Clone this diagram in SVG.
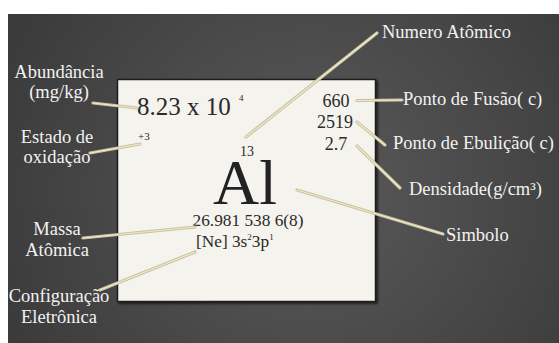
<svg xmlns="http://www.w3.org/2000/svg" width="559" height="343" viewBox="0 0 559 343">
  <defs>
    <radialGradient id="bg" cx="310" cy="190" r="330" gradientUnits="userSpaceOnUse">
      <stop offset="0" stop-color="#5a5a5a"/>
      <stop offset="1" stop-color="#3b3b3b"/>
    </radialGradient>
    <filter id="shadow" x="-10%" y="-10%" width="120%" height="120%">
      <feDropShadow dx="1.5" dy="1.5" stdDeviation="1.2" flood-color="#000" flood-opacity="0.7"/>
    </filter>
    <style>
      text { font-family: "Liberation Serif", "Times New Roman", serif; }
      .label { font-size: 18.5px; fill: #f2f2f2; }
      .val { font-size: 18px; fill: #2a2a2a; }
      .ink { fill: #2a2a2a; }
      .mid { text-anchor: middle; }
      .lead { stroke: #cbc29c; stroke-width: 3.2; stroke-linecap: round; fill: none; }
      .lead-core { stroke: #efe9d2; stroke-width: 1.2; stroke-linecap: round; fill: none; }
    </style>
  </defs>

  <!-- page and dark backdrop -->
  <rect x="0" y="0" width="559" height="343" fill="#ffffff"/>
  <rect x="8" y="14" width="551" height="329" fill="url(#bg)"/>

  <!-- element card -->
  <g id="card">
    <rect x="117.5" y="79.5" width="258" height="222" fill="#f5f3ee" stroke="#1e1e1e" stroke-width="1.5" filter="url(#shadow)"/>
  </g>

  <!-- card contents -->
  <g id="abundance-value">
    <text x="137" y="115" class="ink" font-size="25">8.23 x 10</text>
    <text x="239" y="101" class="ink" font-size="9">4</text>
  </g>
  <g id="oxidation-value">
    <text x="138" y="140" class="ink" font-size="11">+3</text>
  </g>
  <g id="atomic-number">
    <text x="240" y="156" class="ink" font-size="14">13</text>
  </g>
  <g id="symbol">
    <text x="245" y="204" class="mid" font-size="64" fill="#222">Al</text>
  </g>
  <g id="atomic-mass">
    <text x="248" y="226" class="mid ink" font-size="17.3">26.981 538 6(8)</text>
  </g>
  <g id="configuration">
    <text x="196" y="247" class="ink" font-size="17.3">[Ne] 3s<tspan font-size="9" dy="-7">2</tspan><tspan dy="7">3p</tspan><tspan font-size="9" dy="-7">1</tspan></text>
  </g>
  <g id="melting">
    <text x="336" y="107" class="val mid">660</text>
  </g>
  <g id="boiling">
    <text x="335" y="128" class="val mid">2519</text>
  </g>
  <g id="density">
    <text x="336" y="150" class="val mid">2.7</text>
  </g>

  <!-- leader lines -->
  <g id="connectors">
    <g class="lead">
      <line x1="93" y1="103" x2="137" y2="108"/>
      <line x1="90" y1="153" x2="140" y2="144"/>
      <line x1="246" y1="137" x2="377" y2="33"/>
      <line x1="357" y1="100.5" x2="402" y2="100"/>
      <line x1="357" y1="122" x2="385" y2="145"/>
      <line x1="357" y1="146" x2="400" y2="188"/>
      <line x1="297" y1="190" x2="443" y2="234"/>
      <line x1="83" y1="238" x2="195" y2="227"/>
      <line x1="100" y1="290" x2="195" y2="252"/>
    </g>
    <g class="lead-core">
      <line x1="93" y1="103" x2="137" y2="108"/>
      <line x1="90" y1="153" x2="140" y2="144"/>
      <line x1="246" y1="137" x2="377" y2="33"/>
      <line x1="357" y1="100.5" x2="402" y2="100"/>
      <line x1="357" y1="122" x2="385" y2="145"/>
      <line x1="357" y1="146" x2="400" y2="188"/>
      <line x1="297" y1="190" x2="443" y2="234"/>
      <line x1="83" y1="238" x2="195" y2="227"/>
      <line x1="100" y1="290" x2="195" y2="252"/>
    </g>
  </g>

  <!-- outer labels -->
  <g id="label-abundance">
    <text x="59" y="78" class="label mid">Abundância</text>
    <text x="59" y="98" class="label mid">(mg/kg)</text>
  </g>
  <g id="label-oxidation">
    <text x="57" y="143" class="label mid">Estado de</text>
    <text x="57" y="163" class="label mid">oxidação</text>
  </g>
  <g id="label-mass">
    <text x="57" y="235" class="label mid">Massa</text>
    <text x="57" y="256" class="label mid">Atômica</text>
  </g>
  <g id="label-configuration">
    <text x="59" y="302" class="label mid">Configuração</text>
    <text x="59" y="323" class="label mid">Eletrônica</text>
  </g>
  <g id="label-atomic-number">
    <text x="382" y="38" class="label">Numero Atômico</text>
  </g>
  <g id="label-melting">
    <text x="403" y="105" class="label">Ponto de Fusão(  c)</text>
  </g>
  <g id="label-boiling">
    <text x="393" y="149" class="label">Ponto de Ebulição(  c)</text>
  </g>
  <g id="label-density">
    <text x="409" y="195" class="label">Densidade(g/cm³)</text>
  </g>
  <g id="label-symbol">
    <text x="446" y="241" class="label">Simbolo</text>
  </g>
</svg>
